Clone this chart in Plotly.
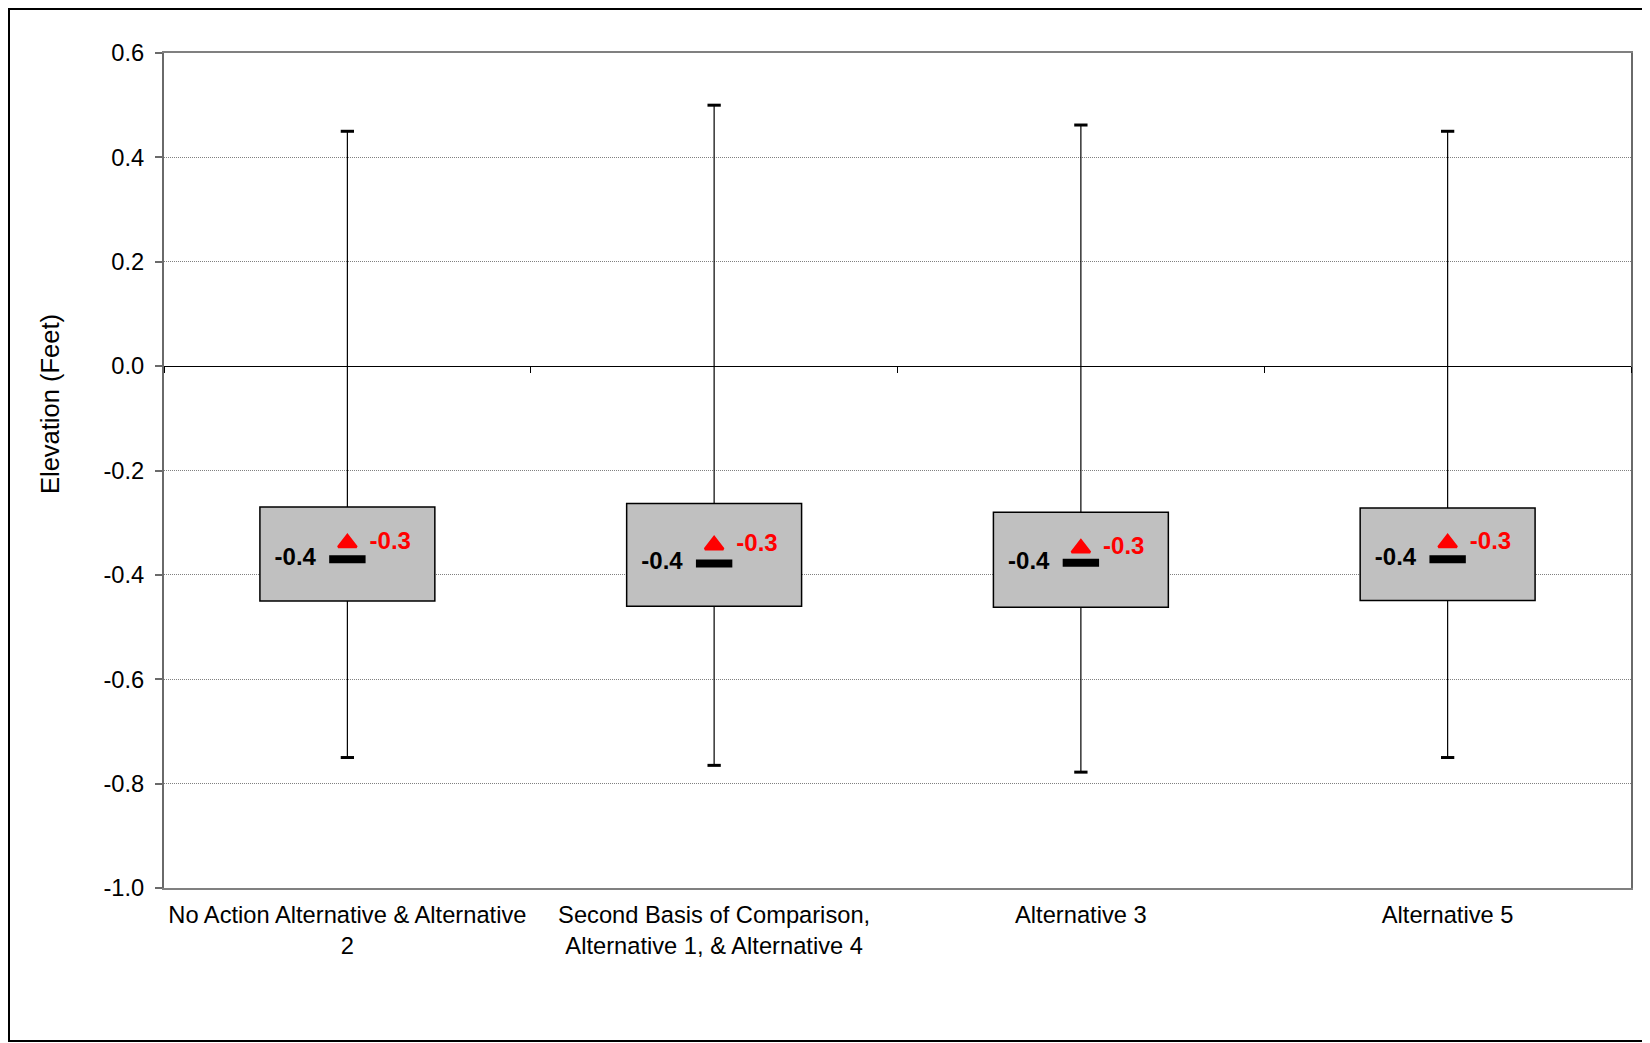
import plotly.graph_objects as go

# ---- data ----
categories = [
    "No Action Alternative & Alternative<br>2",
    "Second Basis of Comparison,<br>Alternative 1, & Alternative 4",
    "Alternative 3",
    "Alternative 5",
]
upper = [0.45, 0.50, 0.462, 0.45]
q3 = [-0.27, -0.263, -0.28, -0.272]
median = [-0.37, -0.378, -0.377, -0.37]
mean = [-0.339, -0.343, -0.349, -0.339]
q1 = [-0.45, -0.46, -0.462, -0.449]
lower = [-0.75, -0.765, -0.778, -0.75]
y_ticks = [-1.0, -0.8, -0.6, -0.4, -0.2, 0.0, 0.2, 0.4, 0.6]
y_title = "Elevation (Feet)"

# ---- layout constants (page has an 8px body margin) ----
W, H = 1642, 1035
ML, MR, MT, MB = 156, 19, 45, 155
PW, PH = W - ML - MR, H - MT - MB
FONT = "Arial, Liberation Sans, sans-serif"
Y_RANGE = [-1.0, 0.6]
X_RANGE = [-0.5, len(categories) - 0.5]

xs = list(range(len(categories)))

fig = go.Figure()

# box bodies
fig.add_trace(go.Bar(
    x=xs, base=q1, y=[b - a for a, b in zip(q1, q3)], width=0.477,
    marker=dict(color="#C0C0C0", line=dict(color="black", width=1.5)),
    showlegend=False, hoverinfo="skip",
))

# whiskers
wx, wy = [], []
for i in xs:
    wx += [i, i, None, i, i, None]
    wy += [q3[i], upper[i], None, lower[i], q1[i], None]
fig.add_trace(go.Scatter(x=wx, y=wy, mode="lines", line=dict(color="black", width=1.2),
                         showlegend=False, hoverinfo="skip"))

# whisker caps
fig.add_trace(go.Scatter(
    x=xs + xs, y=upper + lower, mode="markers",
    marker=dict(symbol="line-ew", size=9.5, color="black", line=dict(color="black", width=3)),
    showlegend=False, hoverinfo="skip",
))

# median bars
fig.add_trace(go.Scatter(
    x=xs, y=median, mode="markers",
    marker=dict(symbol="line-ew", size=26, color="black", line=dict(color="black", width=8)),
    showlegend=False, hoverinfo="skip",
))

# mean triangles
fig.add_trace(go.Scatter(
    x=xs, y=mean, mode="markers",
    marker=dict(symbol="triangle-up", size=16, color="red", line=dict(color="red", width=2.5)),
    showlegend=False, hoverinfo="skip",
))

# labels
fig.add_trace(go.Scatter(
    x=[i - 0.142 for i in xs], y=median, mode="text",
    text=[f"{v:.1f}" for v in median],
    textfont=dict(family=FONT, size=24, color="black", weight="bold"),
    showlegend=False, hoverinfo="skip",
))
fig.add_trace(go.Scatter(
    x=[i + 0.117 for i in xs], y=mean, mode="text",
    text=[f"{v:.1f}" for v in mean],
    textfont=dict(family=FONT, size=24, color="red", weight="bold"),
    showlegend=False, hoverinfo="skip",
))

# dummy trace for the zero-crossing category axis
fig.add_trace(go.Scatter(x=[None], y=[None], xaxis="x2", showlegend=False, hoverinfo="skip"))

zero_pos = (0 - Y_RANGE[0]) / (Y_RANGE[1] - Y_RANGE[0])

fig.update_layout(
    width=W, height=H,
    margin=dict(l=ML, r=MR, t=MT, b=MB),
    paper_bgcolor="white", plot_bgcolor="white",
    font=dict(family=FONT, size=24, color="black"),
    showlegend=False,
    xaxis=dict(
        range=X_RANGE, tickvals=xs, ticktext=categories,
        showline=True, linecolor="#808080", linewidth=2, mirror=True,
        ticks="", showgrid=False, zeroline=False,
        tickfont=dict(family=FONT, size=23.7, color="black"),
        ticklabelstandoff=5,
    ),
    xaxis2=dict(
        range=X_RANGE, overlaying="x", anchor="free", position=zero_pos,
        tickvals=[x + 0.5 for x in [-1] + xs], ticks="outside", ticklen=6,
        tickcolor="black", tickwidth=1,
        showline=True, linecolor="black", linewidth=1,
        showticklabels=False, showgrid=False, zeroline=False,
    ),
    yaxis=dict(
        range=Y_RANGE, tickvals=y_ticks, ticktext=[f"{v:.1f}" for v in y_ticks],
        showline=True, linecolor="#6a6a6a", linewidth=2, mirror=True,
        ticks="outside", ticklen=7, tickcolor="#6a6a6a", tickwidth=1.5,
        showgrid=True, gridcolor="#808080", griddash="1px,1px", gridwidth=1,
        zeroline=False,
        ticklabelstandoff=6,
        tickfont=dict(family=FONT, size=23.7, color="black"),
        automargin=False,
    ),
)

# y-axis title, placed as in the original (above the plot's middle)
fig.add_annotation(
    text=y_title, xref="paper", yref="paper",
    x=(42 - ML) / PW, y=(MT + PH - 396) / PH,
    xanchor="center", yanchor="middle", textangle=-90, showarrow=False,
    font=dict(family=FONT, size=25.5, color="black"),
)

# outer frame of the chart
fx0, fx1, fy0, fy1 = 1, 1637, 1, 1033   # figure pixels
fig.add_shape(
    type="rect", xref="paper", yref="paper",
    x0=(fx0 - ML) / PW, x1=(fx1 - ML) / PW,
    y0=(MT + PH - fy1) / PH, y1=(MT + PH - fy0) / PH,
    line=dict(color="black", width=2), fillcolor="rgba(0,0,0,0)", layer="above",
)

fig.write_html("out.html")
